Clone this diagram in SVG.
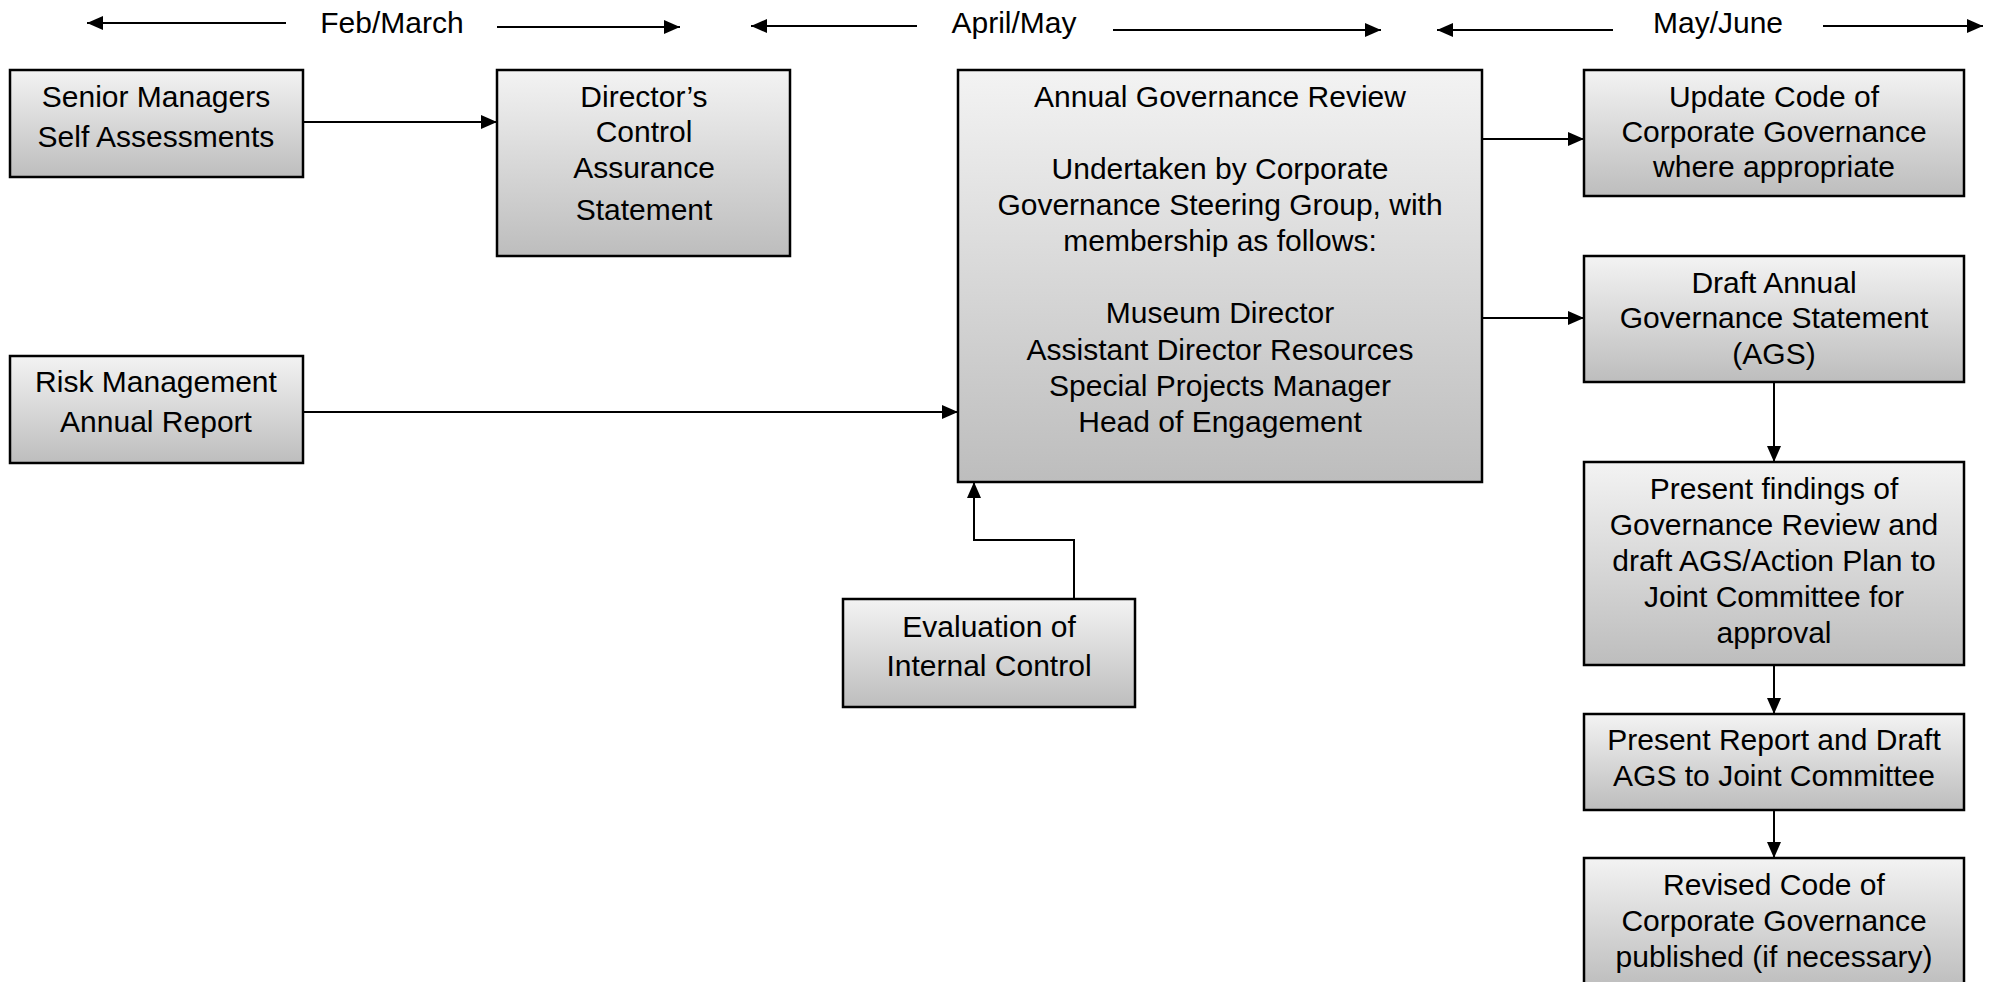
<svg xmlns="http://www.w3.org/2000/svg" width="1995" height="982" viewBox="0 0 1995 982">
<defs>
<linearGradient id="g" x1="0" y1="0" x2="0" y2="1">
<stop offset="0" stop-color="#f3f3f3"/>
<stop offset="1" stop-color="#bdbdbd"/>
</linearGradient>
<marker id="ah" markerUnits="userSpaceOnUse" markerWidth="16" markerHeight="14" refX="16" refY="7" orient="auto">
<path d="M0,0 L16,7 L0,14 z" fill="#000"/>
</marker>
</defs>
<style>
.box{fill:url(#g);stroke:#000;stroke-width:2.5}
.t{font-family:"Liberation Sans",Arial,sans-serif;font-size:30px;fill:#000;text-anchor:middle}
.c{fill:none;stroke:#000;stroke-width:2;marker-end:url(#ah)}
</style>
<rect width="1995" height="982" fill="#fff"/>

<g id="timeline">
<text class="t" x="392" y="33">Feb/March</text>
<text class="t" x="1014" y="33">April/May</text>
<text class="t" x="1718" y="33">May/June</text>
</g>

<g id="connectors">
<line class="c" x1="286" y1="23" x2="87" y2="23"/>
<line class="c" x1="497" y1="27" x2="680" y2="27"/>
<line class="c" x1="917" y1="26" x2="751" y2="26"/>
<line class="c" x1="1113" y1="30" x2="1381" y2="30"/>
<line class="c" x1="1613" y1="30" x2="1437" y2="30"/>
<line class="c" x1="1823" y1="26" x2="1983" y2="26"/>

<line class="c" x1="303" y1="122" x2="497" y2="122"/>
<line class="c" x1="303" y1="412" x2="958" y2="412"/>
<polyline class="c" points="1074,599 1074,540 974,540 974,482"/>
<line class="c" x1="1482" y1="139" x2="1584" y2="139"/>
<line class="c" x1="1482" y1="318" x2="1584" y2="318"/>
<line class="c" x1="1774" y1="382" x2="1774" y2="462"/>
<line class="c" x1="1774" y1="665" x2="1774" y2="714"/>
<line class="c" x1="1774" y1="810" x2="1774" y2="858"/>
</g>

<g id="senior">
<rect class="box" x="10" y="70" width="293" height="107"/>
<text class="t" x="156" y="107">Senior Managers</text>
<text class="t" x="156" y="147">Self Assessments</text>
</g>

<g id="director">
<rect class="box" x="497" y="70" width="293" height="186"/>
<text class="t" x="644" y="107">Director’s</text>
<text class="t" x="644" y="142">Control</text>
<text class="t" x="644" y="178">Assurance</text>
<text class="t" x="644" y="220">Statement</text>
</g>

<g id="review">
<rect class="box" x="958" y="70" width="524" height="412"/>
<text class="t" x="1220" y="107">Annual Governance Review</text>
<text class="t" x="1220" y="179">Undertaken by Corporate</text>
<text class="t" x="1220" y="215">Governance Steering Group, with</text>
<text class="t" x="1220" y="251">membership as follows:</text>
<text class="t" x="1220" y="323">Museum Director</text>
<text class="t" x="1220" y="360">Assistant Director Resources</text>
<text class="t" x="1220" y="396">Special Projects Manager</text>
<text class="t" x="1220" y="432">Head of Engagement</text>
</g>

<g id="risk">
<rect class="box" x="10" y="356" width="293" height="107"/>
<text class="t" x="156" y="392">Risk Management</text>
<text class="t" x="156" y="432">Annual Report</text>
</g>

<g id="evaluation">
<rect class="box" x="843" y="599" width="292" height="108"/>
<text class="t" x="989" y="637">Evaluation of</text>
<text class="t" x="989" y="676">Internal Control</text>
</g>

<g id="update">
<rect class="box" x="1584" y="70" width="380" height="126"/>
<text class="t" x="1774" y="107">Update Code of</text>
<text class="t" x="1774" y="142">Corporate Governance</text>
<text class="t" x="1774" y="177">where appropriate</text>
</g>

<g id="draft">
<rect class="box" x="1584" y="256" width="380" height="126"/>
<text class="t" x="1774" y="293">Draft Annual</text>
<text class="t" x="1774" y="328">Governance Statement</text>
<text class="t" x="1774" y="364">(AGS)</text>
</g>

<g id="findings">
<rect class="box" x="1584" y="462" width="380" height="203"/>
<text class="t" x="1774" y="499">Present findings of</text>
<text class="t" x="1774" y="535">Governance Review and</text>
<text class="t" x="1774" y="571">draft AGS/Action Plan to</text>
<text class="t" x="1774" y="607">Joint Committee for</text>
<text class="t" x="1774" y="643">approval</text>
</g>

<g id="report">
<rect class="box" x="1584" y="714" width="380" height="96"/>
<text class="t" x="1774" y="750">Present Report and Draft</text>
<text class="t" x="1774" y="786">AGS to Joint Committee</text>
</g>

<g id="revised">
<rect class="box" x="1584" y="858" width="380" height="130"/>
<text class="t" x="1774" y="895">Revised Code of</text>
<text class="t" x="1774" y="931">Corporate Governance</text>
<text class="t" x="1774" y="967">published (if necessary)</text>
</g>
</svg>
